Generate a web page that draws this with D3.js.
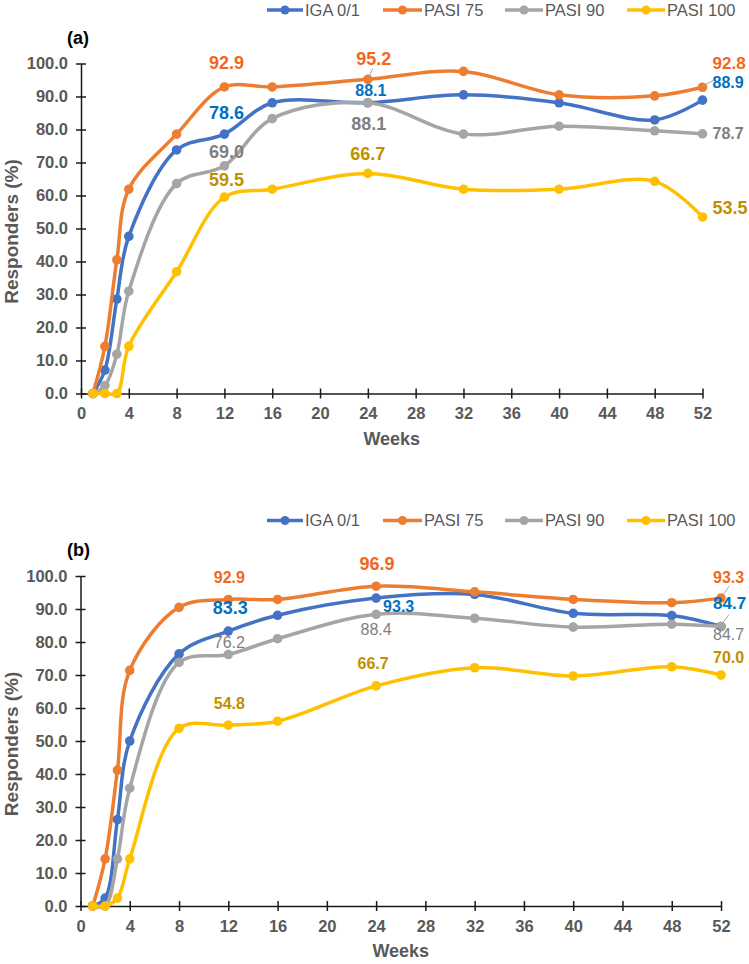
<!DOCTYPE html>
<html><head><meta charset="utf-8">
<script src="https://cdn.jsdelivr.net/npm/d3@7"></script>
<style>
html,body{margin:0;padding:0;background:#fff;}
svg{display:block;font-family:"Liberation Sans",Arial,sans-serif;}
</style></head>
<body>
<svg id="chart" width="749" height="964"></svg>
<script>
// ---------- DATA ----------
const weeks = [1, 2, 3, 4, 8, 12, 16, 24, 32, 40, 48, 52];
const seriesNames = ["IGA 0/1", "PASI 75", "PASI 90", "PASI 100"];
const xTicks = [0, 4, 8, 12, 16, 20, 24, 28, 32, 36, 40, 44, 48, 52];
const yTicks = [0, 10, 20, 30, 40, 50, 60, 70, 80, 90, 100];

// Panel (a)
const a_iga    = [0, 7.1, 28.6, 47.6, 73.8, 78.6, 88.1, 88.1, 90.5, 88.1, 82.9, 88.9];
const a_pasi75 = [0, 14.3, 40.5, 61.9, 78.6, 92.9, 92.9, 95.2, 97.6, 90.5, 90.2, 92.8];
const a_pasi90 = [0, 2.4, 11.9, 31.0, 63.6, 69.0, 83.3, 88.1, 78.6, 81.0, 79.6, 78.7];
const a_pasi100= [0, 0, 0, 14.3, 36.9, 59.5, 61.9, 66.7, 61.9, 61.9, 64.3, 53.5];

// Panel (b)
const b_iga    = [0, 2.4, 26.2, 50.0, 76.4, 83.3, 88.1, 93.3, 94.4, 88.7, 88.0, 84.7];
const b_pasi75 = [0, 14.3, 41.2, 71.4, 90.5, 92.9, 92.9, 96.9, 95.2, 92.9, 91.9, 93.3];
const b_pasi90 = [0, 0, 14.3, 35.7, 73.8, 76.2, 81.0, 88.4, 87.2, 84.5, 85.4, 84.7];
const b_pasi100= [0, 0, 2.4, 14.3, 53.8, 54.8, 56.0, 66.7, 72.2, 69.7, 72.5, 70.0];

// Data labels: [series index, week, text]
const a_labels = [
  [1, 12, "92.9"], [1, 24, "95.2"], [0, 24, "88.1"], [2, 24, "88.1"],
  [0, 12, "78.6"], [2, 12, "69.0"], [3, 12, "59.5"], [3, 24, "66.7"],
  [1, 52, "92.8"], [0, 52, "88.9"], [2, 52, "78.7"], [3, 52, "53.5"]
];
const b_labels = [
  [1, 12, "92.9"], [0, 12, "83.3"], [2, 12, "76.2"], [3, 12, "54.8"],
  [1, 24, "96.9"], [0, 24, "93.3"], [2, 24, "88.4"], [3, 24, "66.7"],
  [1, 52, "93.3"], [0, 52, "84.7"], [2, 52, "84.7"], [3, 52, "70.0"]
];

// ---------- STYLE / LAYOUT ----------
const lineColors  = ["#4472C4", "#ED7D31", "#A5A5A5", "#FFC000"];
const labelColors = ["#0070C0", "#F4661B", "#7F7F7F", "#BF9000"];
const textGrey = "#595959";

// label layout: dx, dy, anchor, size, weight (same order as label arrays)
const a_labelLayout = [
  [2,-24,"middle",18,700],[6,-21,"middle",18,700],[3,-12,"middle",16,700],[1,21,"middle",18,700],
  [2,-21,"middle",18,700],[2,-14,"middle",18,700],[2,-17,"middle",18,700],[0,-20,"middle",18,700],
  [10,-24,"start",17,700],[10,-18,"start",16,700],[10,0,"start",16,700],[10,-9,"start",18,700]
];
const b_labelLayout = [
  [1,-22,"middle",16,700],[2,-23,"middle",18,700],[1,-12,"middle",16,400],[1,-22,"middle",16,700],
  [1,-23,"middle",18,700],[7,8,"start",16,700],[0,15,"middle",16,400],[-3,-22,"middle",16,700],
  [-8,-21,"start",16,700],[-8,-23,"start",17,700],[-8,8,"start",16,400],[-8,-18,"start",16,700]
];
// leader lines: [labelIndex, x1off, y1off, x2off, y2off] relative to the point
const a_leaders = [[1,1,-2,5,-11],[8,0,-1,13,-8]];
const b_leaders = [[8,2,-3,8,-12],[10,2,-4,8,-12]];

const svg = d3.select("#chart");

function drawPanel(cfg) {
  const x = d3.scaleLinear().domain([0, 52]).range([cfg.left, cfg.right]);
  const y = d3.scaleLinear().domain([0, 100]).range([cfg.bottom, cfg.top]);
  const g = svg.append("g");

  // Legend
  const legX = [267, 383, 505, 627];
  const legW = [36, 39, 38, 38];
  seriesNames.forEach((n, i) => {
    const lg = g.append("g");
    lg.append("line").attr("x1", legX[i]).attr("x2", legX[i] + legW[i])
      .attr("y1", cfg.legendY).attr("y2", cfg.legendY)
      .attr("stroke", lineColors[i]).attr("stroke-width", 3.5);
    lg.append("circle").attr("cx", legX[i] + legW[i] / 2).attr("cy", cfg.legendY).attr("r", 4.5)
      .attr("fill", lineColors[i]);
    lg.append("text").attr("x", legX[i] + legW[i] + 2).attr("y", cfg.legendY)
      .attr("dy", "0.35em").attr("font-size", 16.5).attr("fill", textGrey).text(n);
  });

  // Panel title
  g.append("text").attr("x", 67).attr("y", cfg.titleY).attr("dy", "0.35em")
    .attr("font-size", 18).attr("font-weight", 700).attr("fill", "#000").text(cfg.title);

  // Y axis
  const yAxis = g.append("g").attr("transform", `translate(${cfg.left},0)`)
    .call(d3.axisLeft(y).tickValues(yTicks).tickFormat(d3.format(".1f")).tickSize(5).tickSizeOuter(0).tickPadding(8));
  yAxis.selectAll(".tick line").attr("x1", 5);
  // X axis
  const xAxis = g.append("g").attr("transform", `translate(0,${cfg.bottom})`)
    .call(d3.axisBottom(x).tickValues(xTicks).tickSize(5).tickSizeOuter(0).tickPadding(9));
  xAxis.selectAll(".tick line").attr("y1", -5);
  [yAxis, xAxis].forEach(ax => {
    ax.select(".domain").attr("stroke", "#1a1a1a").attr("stroke-width", 1.5);
    ax.selectAll(".tick line").attr("stroke", "#1a1a1a").attr("stroke-width", 1.5);
    ax.selectAll(".tick text").attr("font-size", 16.5).attr("font-weight", 700)
      .attr("fill", textGrey).attr("font-family", "Liberation Sans, Arial, sans-serif");
  });

  // Axis titles
  g.append("text").attr("x", (cfg.left + cfg.right) / 2).attr("y", cfg.bottom + 45)
    .attr("dy", "0.35em").attr("text-anchor", "middle").attr("font-size", 18)
    .attr("font-weight", 700).attr("fill", textGrey).text("Weeks");
  g.append("text").attr("transform", `translate(11,${(cfg.top + cfg.bottom) / 2 + 3}) rotate(-90)`)
    .attr("dy", "0.35em").attr("text-anchor", "middle").attr("font-size", 19)
    .attr("font-weight", 700).attr("fill", textGrey).text("Responders (%)");

  // Lines and markers
  const line = d3.line().x(d => x(d[0])).y(d => y(d[1])).curve(d3.curveCatmullRom.alpha(0.5));
  cfg.series.forEach((vals, i) => {
    const pts = weeks.map((w, k) => [w, vals[k]]);
    g.append("path").attr("d", line(pts)).attr("fill", "none")
      .attr("stroke", lineColors[i]).attr("stroke-width", 3.5).attr("stroke-linejoin", "round");
    g.selectAll(null).data(pts).enter().append("circle")
      .attr("cx", d => x(d[0])).attr("cy", d => y(d[1])).attr("r", 4.8)
      .attr("fill", lineColors[i]);
  });

  // Leader lines
  cfg.leaders.forEach(([li, x1, y1, x2, y2]) => {
    const [si, w] = cfg.labels[li];
    const v = cfg.series[si][weeks.indexOf(w)];
    g.append("line").attr("x1", x(w) + x1).attr("y1", y(v) + y1)
      .attr("x2", x(w) + x2).attr("y2", y(v) + y2)
      .attr("stroke", "#A6A6A6").attr("stroke-width", 1);
  });

  // Data labels
  cfg.labels.forEach(([si, w, t], k) => {
    const [dx, dy, anchor, size, weight] = cfg.layout[k];
    const v = cfg.series[si][weeks.indexOf(w)];
    g.append("text").attr("x", x(w) + dx).attr("y", y(v) + dy).attr("dy", "0.35em")
      .attr("text-anchor", anchor).attr("font-size", size).attr("font-weight", weight)
      .attr("fill", labelColors[si]).text(t);
  });
}

drawPanel({
  left: 81, right: 702.5, top: 63.5, bottom: 393.5, legendY: 10, titleY: 38, title: "(a)",
  series: [a_iga, a_pasi75, a_pasi90, a_pasi100], labels: a_labels, layout: a_labelLayout, leaders: a_leaders
});
drawPanel({
  left: 80.5, right: 721, top: 576, bottom: 906, legendY: 520.5, titleY: 550, title: "(b)",
  series: [b_iga, b_pasi75, b_pasi90, b_pasi100], labels: b_labels, layout: b_labelLayout, leaders: b_leaders
});
</script>
</body></html>
